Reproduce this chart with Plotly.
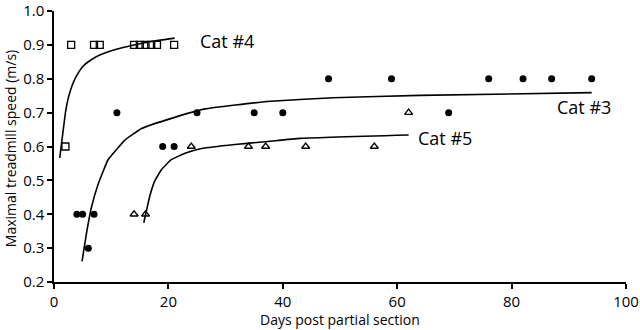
import plotly.graph_objects as go

# Cat #4 (open squares)
cat4_days = [2, 3, 7, 8, 14, 15, 16, 17, 18, 21]
cat4_speed = [0.6, 0.9, 0.9, 0.9, 0.9, 0.9, 0.9, 0.9, 0.9, 0.9]
# Cat #3 (filled circles)
cat3_days = [4, 5, 6, 7, 11, 19, 21, 25, 35, 40, 48, 59, 69, 76, 82, 87, 94]
cat3_speed = [0.4, 0.4, 0.3, 0.4, 0.7, 0.6, 0.6, 0.7, 0.7, 0.7, 0.8, 0.8, 0.7, 0.8, 0.8, 0.8, 0.8]
# Cat #5 (open triangles)
cat5_days = [14, 16, 24, 34, 37, 44, 56, 62]
cat5_speed = [0.4, 0.4, 0.6, 0.6, 0.6, 0.6, 0.6, 0.7]

# Fitted curves
fit4_x = [1.0, 1.3, 1.57, 2.0, 2.45, 3.0, 3.62, 4.3, 5.07, 6.5, 8.0, 10.9, 13.8, 16.7, 21.1]
fit4_y = [0.566, 0.607, 0.643, 0.700, 0.740, 0.772, 0.798, 0.819, 0.837, 0.856, 0.870, 0.887, 0.899, 0.909, 0.920]
fit3_x = [4.9, 5.67, 6.54, 7.70, 9.45, 12.4, 15.3, 21.1, 26.4, 37.2, 48.8, 64.0, 94.0]
fit3_y = [0.261, 0.343, 0.420, 0.488, 0.561, 0.619, 0.653, 0.686, 0.711, 0.733, 0.744, 0.751, 0.759]
fit5_x = [15.7, 16.75, 17.6, 18.8, 20.5, 22.9, 25.8, 31.6, 36.9, 43.0, 62.0]
fit5_y = [0.375, 0.454, 0.498, 0.532, 0.561, 0.580, 0.594, 0.606, 0.614, 0.624, 0.634]

labels = ["Cat #4", "Cat #3", "Cat #5"]
label_x = [30.2, 92.7, 68.3]
label_y = [0.91, 0.718, 0.624]

x_title = "Days post partial section"
y_title = "Maximal treadmill speed (m/s)"

FONT = "Open Sans"
fig = go.Figure()
line = dict(color="black", width=1.6, shape="spline", smoothing=0.3)
fig.add_trace(go.Scatter(x=fit4_x, y=fit4_y, mode="lines", line=line))
fig.add_trace(go.Scatter(x=fit3_x, y=fit3_y, mode="lines", line=line))
fig.add_trace(go.Scatter(x=fit5_x, y=fit5_y, mode="lines", line=line))

fig.add_trace(go.Scatter(x=cat4_days, y=cat4_speed, mode="markers",
                         marker=dict(symbol="square-open", size=7, color="black", line=dict(width=1.3))))
fig.add_trace(go.Scatter(x=cat3_days, y=cat3_speed, mode="markers",
                         marker=dict(symbol="circle", size=7, color="black")))
fig.add_trace(go.Scatter(x=cat5_days, y=cat5_speed, mode="markers",
                         marker=dict(symbol="triangle-up-open", size=7, color="black", line=dict(width=1.3))))

for t, x, y in zip(labels, label_x, label_y):
    fig.add_annotation(x=x, y=y, text=t, showarrow=False,
                       font=dict(family=FONT, size=18, color="black"))

fig.add_annotation(xref="paper", yref="paper", x=0.5, y=0, yshift=-37,
                   yanchor="middle", text=x_title, showarrow=False,
                   font=dict(family=FONT, size=14, color="black"))
fig.add_annotation(xref="paper", yref="paper", x=0, xshift=-44, y=0.49,
                   xanchor="center", textangle=-90, text=y_title, showarrow=False,
                   font=dict(family=FONT, size=14, color="black"))

fig.update_layout(
    width=640, height=330,
    margin=dict(l=54, r=14, t=11, b=48, autoexpand=False),
    paper_bgcolor="white", plot_bgcolor="white",
    showlegend=False,
    font=dict(family=FONT, color="black"),
)
fig.update_xaxes(range=[0, 100], tickvals=[0, 20, 40, 60, 80, 100],
                 automargin=False, ticklabeloverflow="allow",
                 showline=True, linecolor="black", linewidth=1.5,
                 ticks="outside", ticklen=5, tickwidth=1.5, tickcolor="black",
                 showgrid=False, zeroline=False,
                 tickfont=dict(family=FONT, size=15, color="black"))
fig.update_yaxes(range=[0.2, 1.0], tickvals=[0.2, 0.3, 0.4, 0.5, 0.6, 0.7, 0.8, 0.9, 1.0],
                 tickformat=".1f", automargin=False, ticklabeloverflow="allow",
                 showline=True, linecolor="black", linewidth=1.5,
                 ticks="outside", ticklen=5, tickwidth=1.5, tickcolor="black",
                 showgrid=False, zeroline=False,
                 tickfont=dict(family=FONT, size=15, color="black"))

fig.write_html("out.html", config={"displayModeBar": False},
               post_script="document.body.style.margin='0';document.body.style.overflow='hidden';")
